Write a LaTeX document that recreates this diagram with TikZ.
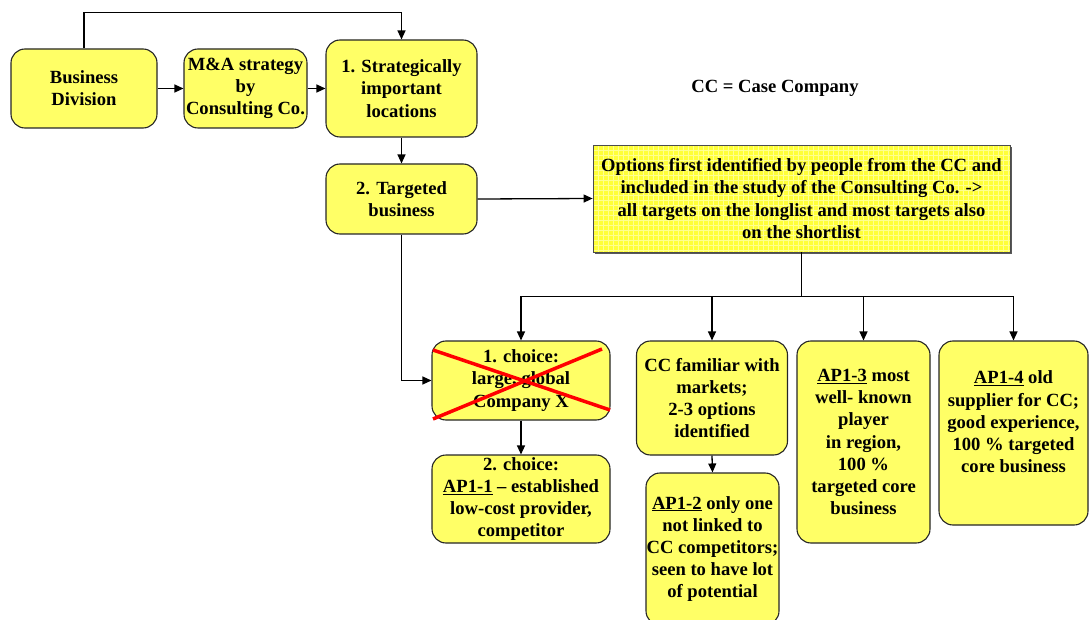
\documentclass[tikz,border=0pt]{standalone}
\usepackage{fontspec}
\setmainfont{Liberation Serif}
\usetikzlibrary{arrows.meta,calc}
\definecolor{boxyellow}{HTML}{FFFF66}
\definecolor{optyellow}{HTML}{FFFF38}
\definecolor{optgrid}{HTML}{FFFF90}
\newcommand{\boxfont}{\bfseries\fontsize{18.6}{22.2}\selectfont}
\tikzset{
  box/.style={draw=black!85, line width=1.1pt, fill=boxyellow, rounded corners=14pt,
    align=center, inner sep=0pt, font=\boxfont},
  link/.style={line width=1.3pt, -{Triangle[length=9pt,width=8pt]}},
  plainline/.style={line width=1.3pt},
  cross/.style={red, line width=3.5pt},
}
\begin{document}
\begin{tikzpicture}[x=1pt,y=-1pt]
\useasboundingbox (0,0) rectangle (1089,620);
\clip (0,0) rectangle (1089,620);

% top row
\node[box, minimum width=146pt, minimum height=79pt] (bd) at (84,88.5) {Business\\Division};
\node[box, minimum width=123pt, minimum height=79pt] (ma) at (245.5,88.5) {M\&A strategy\\by\\Consulting Co.};
\node[box, minimum width=151pt, minimum height=97pt] (loc) at (401.5,88.5) {1. Strategically\\important\\locations};
\node[box, minimum width=151pt, minimum height=70pt] (tb) at (401.5,199) {2. Targeted\\business};

\node[font=\boxfont] (cc) at (775,88) {CC = Case Company};

% options box with shadow and fine grid texture
\fill[black!65] (595,147) rectangle (1012,254);
\node[draw=black!70, line width=0.8pt, fill=optyellow, minimum width=417pt, minimum height=107pt,
  inner sep=0pt, path picture={
    \foreach \i in {0,5,...,420} \draw[optgrid, line width=0.6pt] ($(path picture bounding box.north west)+(\i,0)$) -- ++(0,120);
    \foreach \j in {0,5,...,110} \draw[optgrid, line width=0.6pt] ($(path picture bounding box.north west)+(0,\j)$) -- ++(420,0);
  }] (opt) at (801.5,198.5) {};
\node[align=center, font=\boxfont] (opttext) at (opt.center)
  {Options first identified by people from the CC and\\included in the study of the Consulting Co. ->\\all targets on the longlist and most targets also\\on the shortlist};

% lower boxes
\node[box, minimum width=178pt, minimum height=79pt] (ch1) at (521,380.5) {1. choice:\\large, global\\Company X};
\node[box, minimum width=178pt, minimum height=88pt] (ch2) at (521,499) {2. choice:\\\underline{AP1-1} -- established\\low-cost provider,\\competitor};
\node[box, minimum width=151pt, minimum height=114pt] (ccf) at (712,398) {CC familiar with\\markets;\\2-3 options\\identified};
\node[box, minimum width=133pt, minimum height=152pt] (ap2) at (712.5,549) {\underline{AP1-2} only one\\not linked to\\CC competitors;\\seen to have lot\\of potential};
\node[box, minimum width=133pt, minimum height=202pt] (ap3) at (863.5,442) {\underline{AP1-3} most\\well- known\\player\\in region,\\100 \%\\targeted core\\business};
\node[box, minimum width=149pt, minimum height=184pt] (ap4) at (1013.5,433) {\underline{AP1-4} old\\supplier for CC;\\good experience,\\100 \% targeted\\core business\\\mbox{}};

% crossed-out first choice
\draw[cross] (433,350) -- (610,410);
\draw[cross] (433,419) -- (602,349);

% connectors
\draw[link] (bd.north) -- ++(0,-36) -| (loc.north);
\draw[link] (bd.east) -- (ma.west);
\draw[link] (ma.east) -- (loc.west);
\draw[link] (loc.south) -- (tb.north);
\draw[link] (tb.east) -- (opt.west);
\draw[link] (tb.south) |- (ch1.west);
\draw[plainline] (opt.south) -- ++(0,44) coordinate (split);
\draw[plainline] (ch1.north |- split) -- (ap4.north |- split);
\draw[link] (ch1.north |- split) -- (ch1.north);
\draw[link] (ccf.north |- split) -- (ccf.north);
\draw[link] (ap3.north |- split) -- (ap3.north);
\draw[link] (ap4.north |- split) -- (ap4.north);
\draw[link] (ch1.south) -- (ch2.north);
\draw[link] (ccf.south) -- (ap2.north);
\end{tikzpicture}
\end{document}
